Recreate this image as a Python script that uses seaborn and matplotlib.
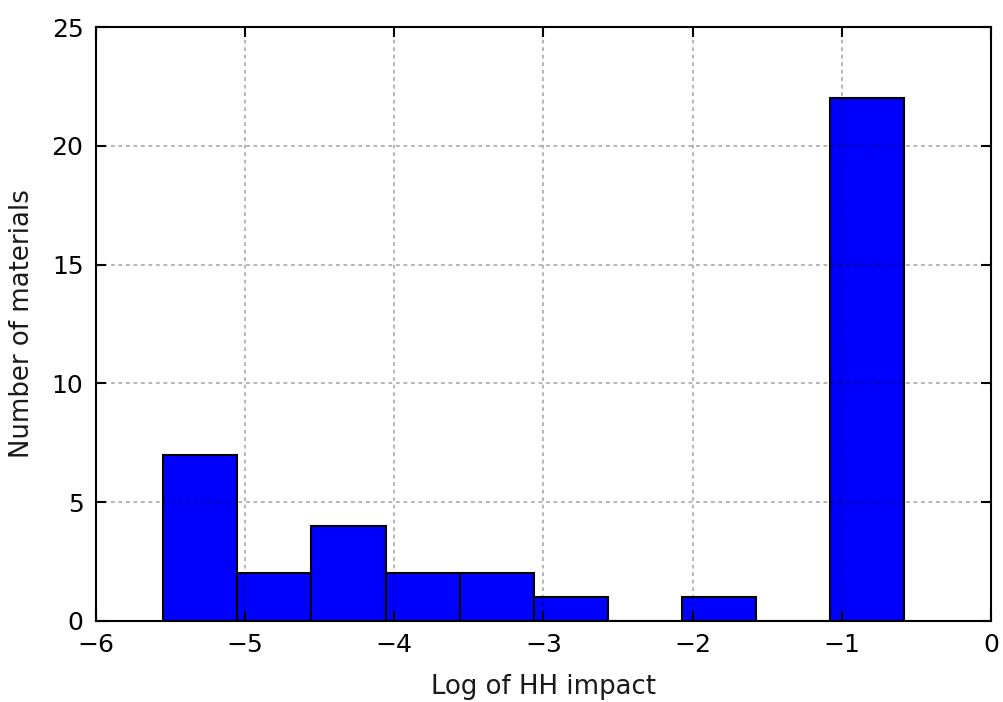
import numpy as np
import pandas as pd
import matplotlib
matplotlib.use('Agg')
import matplotlib.pyplot as plt
import seaborn as sns

# histogram: 10 equal bins between the data min and max
bin_lo = -5.55
bin_hi = -0.58
counts = [7, 2, 4, 2, 2, 1, 0, 1, 0, 22]
x_ticks = [-6, -5, -4, -3, -2, -1, 0]
y_ticks = [0, 5, 10, 15, 20, 25]

edges = np.linspace(bin_lo, bin_hi, len(counts) + 1)
df = pd.DataFrame({"impact": (edges[:-1] + edges[1:]) / 2, "n": counts})

sns.set_style("white")
plt.rcParams['font.family'] = ['DejaVu Sans']
plt.rcParams['font.size'] = 12

fig = plt.figure(figsize=(1003 / 150, 702 / 150), dpi=150)
ax = fig.add_axes([0.0957, 0.1154, 0.8923, 0.8461])

sns.histplot(data=df, x="impact", weights="n", bins=len(counts),
             binrange=(bin_lo, bin_hi), color='#0000ff', alpha=1,
             edgecolor='black', linewidth=1, ax=ax)

ax.set_xlim(-6, 0)
ax.set_ylim(0, 25)
ax.set_xticks(x_ticks)
ax.set_yticks(y_ticks)
ax.set_xlabel("Log of HH impact", fontsize=12.5, color='#1a1a1a', labelpad=8)
ax.set_ylabel("Number of materials", fontsize=12.5, color='#1a1a1a', labelpad=8)

ax.set_axisbelow(False)
ax.grid(True, color='black', linestyle=(0, (2, 2)), linewidth=0.9, alpha=0.3)
ax.tick_params(direction='in', length=5, width=1, top=True, right=True,
               bottom=True, left=True, labelsize=12, pad=6, colors='black')
for s in ax.spines.values():
    s.set_visible(True)
    s.set_color('black')
    s.set_linewidth(1)

fig.savefig('out.png', dpi=150)
